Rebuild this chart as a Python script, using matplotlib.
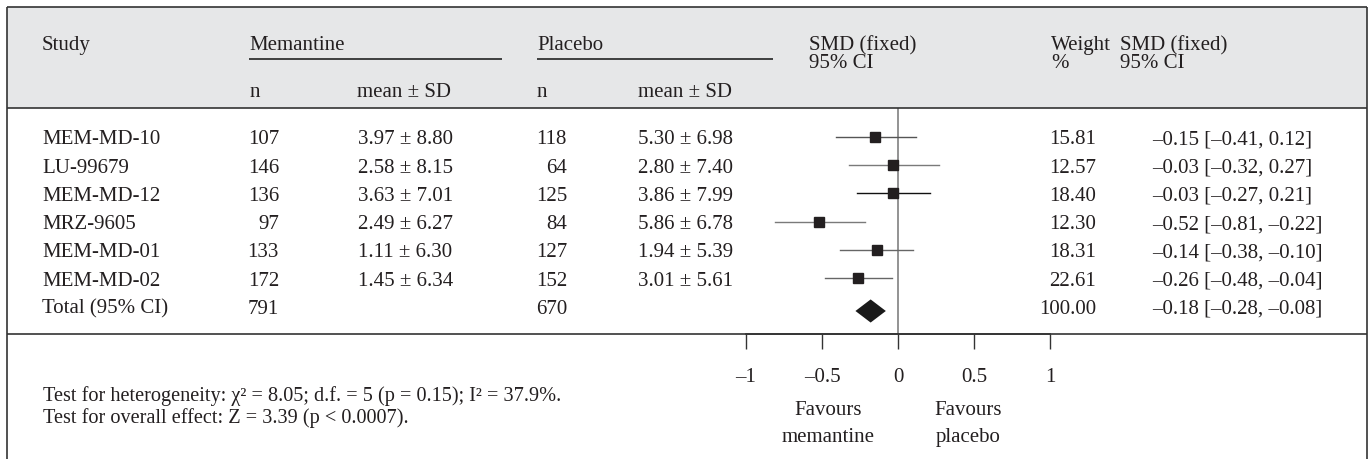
import matplotlib
matplotlib.use("Agg")
import matplotlib.pyplot as plt
from matplotlib.lines import Line2D
from matplotlib.patches import Rectangle
import matplotlib.transforms as mtransforms

# ---------------- data ----------------
studies = ["MEM-MD-10", "LU-99679", "MEM-MD-12", "MRZ-9605", "MEM-MD-01", "MEM-MD-02"]
mem_n = [107, 146, 136, 97, 133, 172]
mem_mean = [3.97, 2.58, 3.63, 2.49, 1.11, 1.45]
mem_sd = [8.80, 8.15, 7.01, 6.27, 6.30, 6.34]
plc_n = [118, 64, 125, 84, 127, 152]
plc_mean = [5.30, 2.80, 3.86, 5.86, 1.94, 3.01]
plc_sd = [6.98, 7.40, 7.99, 6.78, 5.39, 5.61]
weights = [15.81, 12.57, 18.40, 12.30, 18.31, 22.61]
smd = [-0.15, -0.03, -0.03, -0.52, -0.14, -0.26]
ci_lo = [-0.41, -0.32, -0.27, -0.81, -0.38, -0.48]
ci_hi = [0.12, 0.27, 0.21, -0.22, 0.10, -0.04]
ci_text = ["–0.15 [–0.41, 0.12]", "–0.03 [–0.32, 0.27]", "–0.03 [–0.27, 0.21]",
           "–0.52 [–0.81, –0.22]", "–0.14 [–0.38, –0.10]", "–0.26 [–0.48, –0.04]"]
total_label = "Total (95% CI)"
total_mem_n = 791
total_plc_n = 670
total_weight = 100.00
total_smd = -0.18
total_lo = -0.28
total_hi = -0.08
total_ci_text = "–0.18 [–0.28, –0.08]"
tick_vals = [-1, -0.5, 0, 0.5, 1]
tick_labels = ["–1", "–0.5", "0", "0.5", "1"]
favours_left = ["Favours", "memantine"]
favours_right = ["Favours", "placebo"]
footnotes = ["Test for heterogeneity: χ² = 8.05; d.f. = 5 (p = 0.15); I² = 37.9%.",
             "Test for overall effect: Z = 3.39 (p < 0.0007)."]

# ---------------- style ----------------
plt.rcParams['font.family'] = ['Liberation Serif', 'DejaVu Serif']
FS = 15
TXT = '#231f20'
W, H = 1371, 460

fig = plt.figure(figsize=(W / 100, H / 100), dpi=100)
fig.patch.set_facecolor('white')


def fx(x):
    return x / W


def fy(y):
    return 1 - y / H


def ftext(x, y, s, ha='left', size=FS, **kw):
    fig.text(fx(x), fy(y), s, ha=ha, va='baseline', fontsize=size, color=TXT, **kw)


def fline(x0, y0, x1, y1, lw=1.2, color='#333333'):
    fig.add_artist(Line2D([fx(x0), fx(x1)], [fy(y0), fy(y1)], transform=fig.transFigure,
                          lw=lw, color=color, solid_capstyle='butt'))


# header band
fig.add_artist(Rectangle((fx(7), fy(108.5)), fx(1367) - fx(7), fy(8) - fy(108.5),
                         transform=fig.transFigure, facecolor='#e6e7e8', edgecolor='none'))
# frame lines
fline(7, 8, 1367, 8)
fline(7, 108.5, 1367, 108.5)
fline(7, 335, 1367, 335)
fline(7, 8, 7, 460)
fline(1367, 8, 1367, 460)
# group underlines
fline(249, 60, 502, 60, lw=1.1, color='#111111')
fline(537, 60, 773, 60, lw=1.1, color='#111111')

# header texts
ftext(42, 50, "Study")
ftext(249, 50, "Memantine")
ftext(537, 50, "Placebo")
ftext(809, 50, "SMD (fixed)")
ftext(809, 68.5, "95% CI")
ftext(1051, 50, "Weight")
ftext(1051, 68.5, "%")
ftext(1120, 50, "SMD (fixed)")
ftext(1120, 68.5, "95% CI")
ftext(250, 97, "n")
ftext(357, 97, "mean ± SD")
ftext(537, 97, "n")
ftext(638, 97, "mean ± SD")

# rows
ROW0 = 144.5
STEP = 28.2
for i in range(len(studies)):
    yb = ROW0 + STEP * i
    ftext(42, yb, studies[i])
    ftext(279, yb, str(mem_n[i]), ha='right')
    ftext(358, yb, f"{mem_mean[i]:.2f} ± {mem_sd[i]:.2f}")
    ftext(567, yb, str(plc_n[i]), ha='right')
    ftext(638, yb, f"{plc_mean[i]:.2f} ± {plc_sd[i]:.2f}")
    ftext(1096, yb, f"{weights[i]:.2f}", ha='right')
    ftext(1152, yb, ci_text[i])
yb = ROW0 + STEP * len(studies)
ftext(42, yb, total_label)
ftext(279, yb, str(total_mem_n), ha='right')
ftext(567, yb, str(total_plc_n), ha='right')
ftext(1096, yb, f"{total_weight:.2f}", ha='right')
ftext(1152, yb, total_ci_text)

# footnotes
ftext(43, 401.5, footnotes[0], size=14.6)
ftext(43, 423, footnotes[1], size=14.6)

# ---------------- forest axes ----------------
ax = fig.add_axes([fx(746), fy(335), fx(1050) - fx(746), fy(108.5) - fy(335)])
ax.patch.set_alpha(0)
ax.set_xlim(-1, 1)
rc0 = 138.0
ax.set_ylim((335 - rc0) / STEP, (108.5 - rc0) / STEP)
for s in ['top', 'left', 'right']:
    ax.spines[s].set_visible(False)
ax.spines['bottom'].set_linewidth(1.2)
ax.spines['bottom'].set_color('#333333')
ax.set_yticks([])
ax.set_xticks(tick_vals)
ax.set_xticklabels(tick_labels)
ax.tick_params(axis='x', direction='out', length=10.5, width=1.0, color='#333333',
               pad=13, labelsize=FS, labelcolor=TXT)

ax.axvline(0, color='#808080', lw=1.2, zorder=1)
ys = list(range(len(studies)))
line_cols = ['#555555', '#7a7a7a', '#111111', '#7a7a7a', '#666666', '#666666']
for i in range(len(studies)):
    ax.plot([ci_lo[i], ci_hi[i]], [ys[i], ys[i]], color=line_cols[i], lw=1.0, zorder=2)
ax.plot(smd, ys, linestyle='none', marker='s', ms=7.3, color='#231f20', zorder=3)

yt = len(studies) + 0.17
hh = 0.41
ax.fill([total_lo, total_smd, total_hi, total_smd], [yt, yt - hh, yt, yt + hh],
        color='#1a1a1a', lw=0, zorder=3)

# favours labels
tr = mtransforms.blended_transform_factory(ax.transData, fig.transFigure)
ax.text(-0.46, fy(415), favours_left[0], transform=tr, ha='center', va='baseline', fontsize=FS, color=TXT)
ax.text(-0.46, fy(442), favours_left[1], transform=tr, ha='center', va='baseline', fontsize=FS, color=TXT)
ax.text(0.46, fy(415), favours_right[0], transform=tr, ha='center', va='baseline', fontsize=FS, color=TXT)
ax.text(0.46, fy(442), favours_right[1], transform=tr, ha='center', va='baseline', fontsize=FS, color=TXT)

fig.savefig("out.png", dpi=100, facecolor='white')
